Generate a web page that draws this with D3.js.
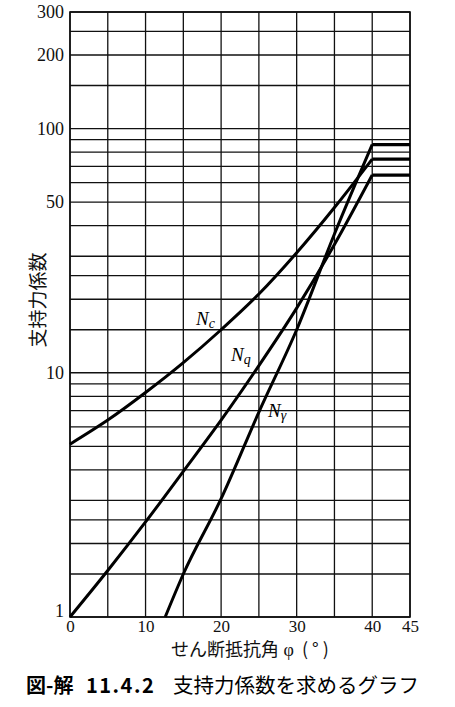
<!DOCTYPE html>
<html>
<head>
<meta charset="utf-8">
<script src="https://cdn.jsdelivr.net/npm/d3@7"></script>
<style>
  body { margin: 0; background: #fff; }
  svg { display: block; }
</style>
</head>
<body>
<div id="chart"></div>
<script>
// values
var phiNc = [0, 5, 10, 15, 20, 25, 30, 35, 40];
var valNc = [5.1, 6.4, 8.3, 11.0, 15.0, 21.0, 31.0, 47.5, 75];
var phiNq = [0, 5, 10, 15, 20, 25, 30, 35, 40];
var valNq = [1, 1.55, 2.45, 3.95, 6.4, 10.7, 18.4, 33.5, 64.5];
var phiNg = [12.6, 15, 20, 25, 30, 35, 40];
var valNg = [1, 1.5, 3.05, 6.9, 15, 37, 86];
var phiEnd = 45;

var xTicks = [0, 10, 20, 30, 40, 45];
var yTicks = [1, 10, 50, 100, 200, 300];
var xGrid = [0, 5, 10, 15, 20, 25, 30, 35, 40, 45];
var yGrid = [1, 1.5, 2, 2.5, 3, 4, 5, 6, 7, 8, 9, 10, 15, 20, 25, 30, 40, 50,
             60, 70, 80, 90, 100, 150, 200, 250, 300];

function drawChart() {
    var W = 455, H = 707;
    var plotL = 70, plotR = 410, plotT = 12, plotB = 617;

    var svg = d3.select("#chart").append("svg")
        .attr("width", W)
        .attr("height", H);

    var x = d3.scaleLinear().domain([0, 45]).range([plotL, plotR]);
    var y = d3.scaleLog().domain([1, 300]).range([plotB, plotT]);

    var serif = "Liberation Serif, DejaVu Serif, serif";
    var jp = "Noto Sans CJK JP, sans-serif";

    // grid
    var grid = svg.append("g").attr("stroke", "#111").attr("stroke-width", 1.3);
    grid.selectAll("line.v").data(xGrid).enter().append("line")
        .attr("class", "v")
        .attr("x1", d => x(d)).attr("x2", d => x(d))
        .attr("y1", plotT).attr("y2", plotB);
    grid.selectAll("line.h").data(yGrid).enter().append("line")
        .attr("class", "h")
        .attr("x1", plotL).attr("x2", plotR)
        .attr("y1", d => y(d)).attr("y2", d => y(d));

    svg.append("rect")
        .attr("x", plotL).attr("y", plotT)
        .attr("width", plotR - plotL).attr("height", plotB - plotT)
        .attr("fill", "none").attr("stroke", "#111").attr("stroke-width", 1.6);

    // axes (labels only)
    var xAxis = svg.append("g")
        .attr("transform", "translate(0," + plotB + ")")
        .call(d3.axisBottom(x).tickValues(xTicks).tickSize(0).tickPadding(3).tickFormat(d3.format("d")));
    xAxis.select(".domain").remove();
    xAxis.selectAll("text").attr("font-family", serif).attr("font-size", 17).attr("fill", "#111");

    var yAxis = svg.append("g")
        .attr("transform", "translate(" + plotL + ",0)")
        .call(d3.axisLeft(y).tickValues(yTicks).tickSize(0).tickPadding(6).tickFormat(d3.format("d")));
    yAxis.select(".domain").remove();
    yAxis.selectAll("text").attr("font-family", serif).attr("font-size", 18).attr("fill", "#111");
    yAxis.selectAll(".tick").filter(d => d === 1).select("text").attr("dy", "-0.05em");

    // curves
    var curve = d3.line()
        .x(d => x(d[0]))
        .y(d => y(d[1]))
        .curve(d3.curveMonotoneX);
    var flat = d3.line()
        .x(d => x(d[0]))
        .y(d => y(d[1]));

    [[phiNc, valNc], [phiNq, valNq], [phiNg, valNg]].forEach(function(s) {
        var pts = s[0].map((p, i) => [p, s[1][i]]);
        var last = pts[pts.length - 1];
        svg.append("path")
            .attr("d", curve(pts))
            .attr("fill", "none").attr("stroke", "#000").attr("stroke-width", 3);
        svg.append("path")
            .attr("d", flat([last, [phiEnd, last[1]]]))
            .attr("fill", "none").attr("stroke", "#000").attr("stroke-width", 3.2);
    });

    // curve labels
    function curveLabel(px, py, sub) {
        var t = svg.append("text")
            .attr("x", px).attr("y", py)
            .attr("font-family", serif).attr("font-style", "italic")
            .attr("font-size", 19).attr("fill", "#000");
        t.append("tspan").text("N");
        t.append("tspan").text(sub).attr("font-size", 14).attr("dy", 3);
    }
    curveLabel(196, 325, "c");
    curveLabel(231, 361, "q");
    curveLabel(268, 417, "γ");

    // axis titles
    var xt = svg.append("text")
        .attr("x", 171).attr("y", 656)
        .attr("font-size", 18).attr("fill", "#111");
    xt.append("tspan").text("せん断抵抗角").attr("font-family", jp);
    xt.append("tspan").text(" φ").attr("font-family", serif);
    xt.append("tspan").text(" (°)").attr("font-family", jp).attr("letter-spacing", 4);

    svg.append("text")
        .attr("transform", "translate(36,300) rotate(-90)")
        .attr("text-anchor", "middle")
        .attr("dominant-baseline", "central")
        .attr("font-family", jp).attr("font-size", 19).attr("fill", "#111")
        .text("支持力係数");

    // caption
    svg.append("text")
        .attr("x", 26).attr("y", 693)
        .attr("font-family", jp).attr("font-size", 20).attr("font-weight", "bold")
        .attr("fill", "#000")
        .text("図-解");
    svg.append("text")
        .attr("x", 86).attr("y", 693)
        .attr("font-family", jp).attr("font-size", 20).attr("font-weight", "bold")
        .attr("letter-spacing", 1.5).attr("fill", "#000")
        .text("11.4.2");
    svg.append("text")
        .attr("x", 173).attr("y", 693)
        .attr("font-family", jp).attr("font-size", 20.5)
        .attr("fill", "#000")
        .text("支持力係数を求めるグラフ");
}

drawChart();
</script>
</body>
</html>
